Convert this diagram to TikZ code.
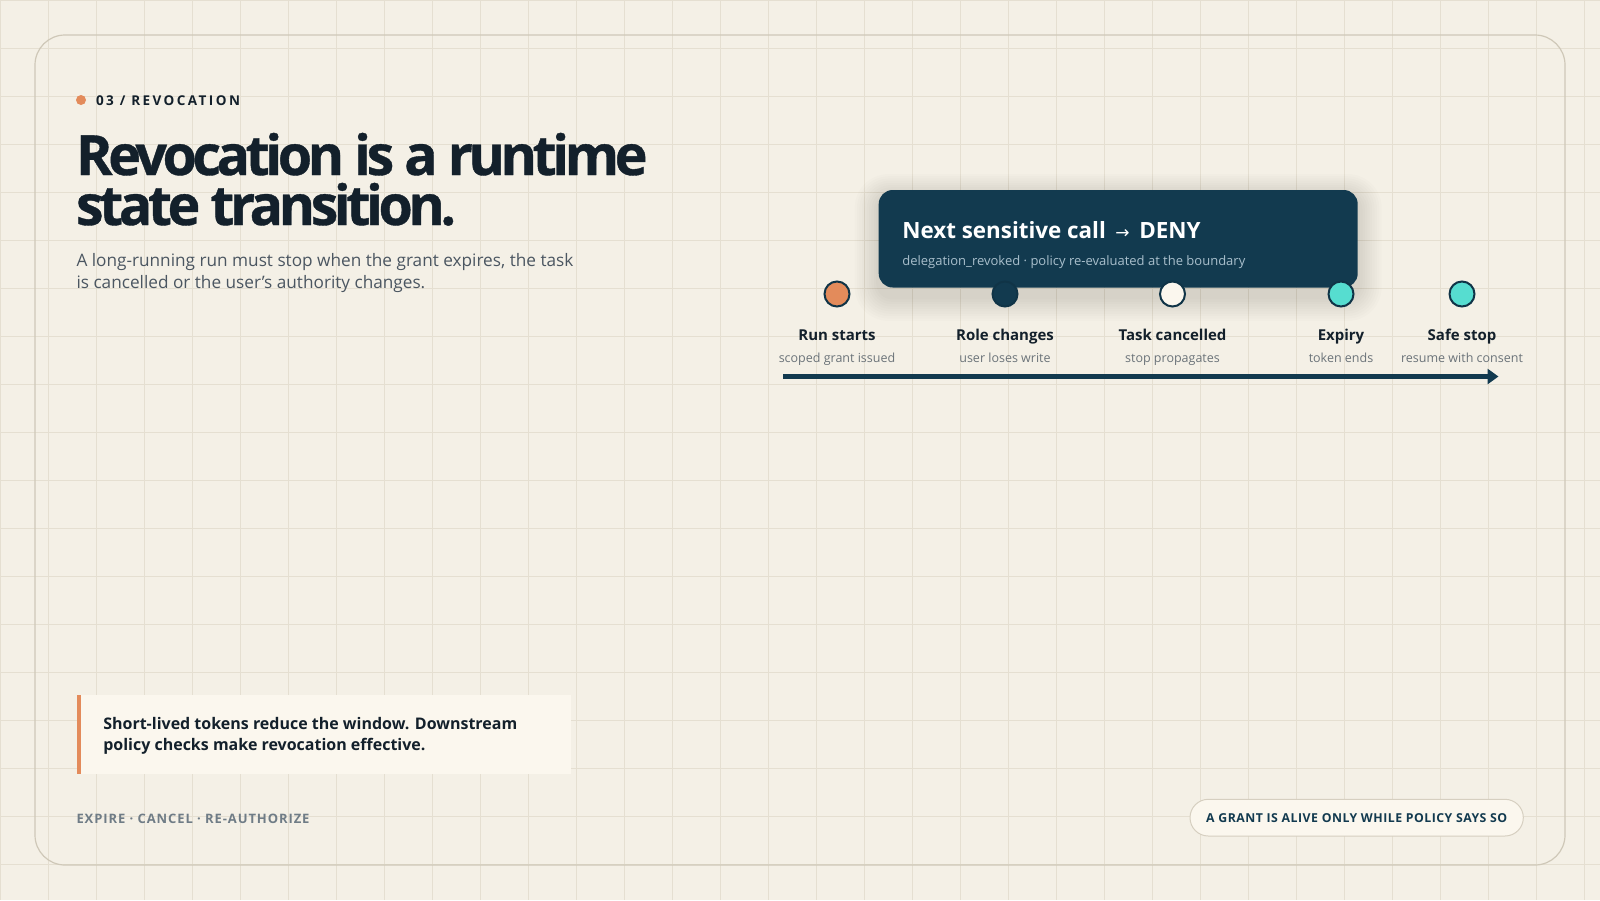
\documentclass[tikz,border=0pt]{standalone}
\usepackage{fontspec}
\setmainfont{Open Sans}
\newfontfamily\titlefont[LetterSpace=-8,FakeBold=0.7]{Open Sans}
\newfontfamily\kickerfont[LetterSpace=18]{Open Sans}
\newfontfamily\footfont[LetterSpace=7]{Open Sans}
\newfontfamily\pillfont[LetterSpace=4]{Open Sans}
\newfontfamily\symfont{DejaVu Sans}
\usetikzlibrary{arrows.meta}
\definecolor{bgc}{HTML}{F4F0E6}
\definecolor{gridc}{HTML}{E5DFD1}
\definecolor{cardline}{HTML}{CFC8B8}
\definecolor{darkc}{HTML}{123A4F}
\definecolor{orangec}{HTML}{E38B5B}
\definecolor{tealc}{HTML}{56DDD0}
\definecolor{creamc}{HTML}{FBF7EE}
\definecolor{inkc}{HTML}{13202B}
\definecolor{greyc}{HTML}{4B5661}
\definecolor{subc}{HTML}{6B7379}
\definecolor{footc}{HTML}{6F7C86}
\definecolor{paleblue}{HTML}{A9BFCC}
\definecolor{pillline}{HTML}{D6CFC0}
\tikzset{
  txt/.style={inner sep=0pt, outer sep=0pt, anchor=base west},
  dot/.style={circle, minimum size=25, inner sep=0pt, draw=darkc!90!black, line width=2},
  lbl/.style={inner sep=0pt, anchor=base, font=\bfseries\fontsize{15}{18}\selectfont, text=inkc},
  sublbl/.style={inner sep=0pt, anchor=base, font=\fontsize{12.5}{15}\selectfont, text=subc},
}
\begin{document}
\begin{tikzpicture}[x=1pt,y=-1pt]
\useasboundingbox (0,0) rectangle (1600,900);
\fill[bgc] (0,0) rectangle (1600,900);
\foreach \i in {0,48,...,1600} \draw[gridc, line width=1] (\i,0) -- (\i,900);
\foreach \j in {0,48,...,900} \draw[gridc, line width=1] (0,\j) -- (1600,\j);
% card
\draw[cardline, line width=1.2, rounded corners=30] (35,35) rectangle (1565,865);
% kicker
\fill[orangec] (81,100) circle (5);
\node[txt, text=inkc, font=\kickerfont\bfseries\fontsize{13.5}{16}\selectfont] (kick) at (96,105) {03 / REVOCATION};
% title
\node[txt, text=inkc, font=\titlefont\bfseries\fontsize{55.5}{56}\selectfont] (t1) at (76,175) {Revocation is a runtime};
\node[txt, text=inkc, font=\titlefont\bfseries\fontsize{55.5}{56}\selectfont] (t2) at (76,225) {state transition.};
% subtitle
\node[txt, text=greyc, font=\fontsize{17.2}{22}\selectfont] (s1) at (76.5,266) {A long-running run must stop when the grant expires, the task};
\node[txt, text=greyc, font=\fontsize{17.2}{22}\selectfont] (s2) at (76.5,288.7) {is cancelled or the user’s authority changes.};
% dark card shadow
\foreach \k in {1,...,10}
  \fill[black, opacity=0.012, rounded corners=14+\k*2] (878.6-\k*2.4,196-\k*2.2) rectangle (1357.7+\k*2.4,297+\k*2.4);
\node[rectangle, rounded corners=14, fill=darkc, minimum width=479, minimum height=97.5, inner sep=0pt] (deny) at (1118.2,238.75) {};
\node[txt, text=white, font=\bfseries\fontsize{22.4}{26}\selectfont] (denyt) at (902.3,238.3) {Next sensitive call\, {\normalfont\symfont\fontsize{17}{20}\selectfont →}\, DENY};
\node[txt, text=paleblue, font=\fontsize{13}{16}\selectfont] (denys) at (902.3,265.7) {delegation\_revoked · policy re-evaluated at the boundary};
% timeline dots
\node[dot, fill=orangec] (c1) at (837,294) {};
\node[dot, fill=darkc] (c2) at (1005,294) {};
\node[dot, fill=creamc] (c3) at (1172.5,294) {};
\node[dot, fill=tealc] (c4) at (1341,294) {};
\node[dot, fill=tealc] (c5) at (1462,294) {};
\node[lbl] (l1) at (837,340) {Run starts};
\node[lbl] (l2) at (1005,340) {Role changes};
\node[lbl] (l3) at (1172.5,340) {Task cancelled};
\node[lbl] (l4) at (1341,340) {Expiry};
\node[lbl] (l5) at (1462,340) {Safe stop};
\node[sublbl] (m1) at (837,362.3) {scoped grant issued};
\node[sublbl] (m2) at (1005,362.3) {user loses write};
\node[sublbl] (m3) at (1172.5,362.3) {stop propagates};
\node[sublbl] (m4) at (1341,362.3) {token ends};
\node[sublbl] (m5) at (1462,362.3) {resume with consent};
% axis
\coordinate (a0) at (783,376.5);
\coordinate (a1) at (1498.5,376.5);
\draw[darkc, line width=4.3, -{Triangle[length=11pt,width=15pt]}] (a0) -- (a1);
% callout
\fill[creamc] (76.5,695) rectangle (571,774);
\fill[orangec] (76.5,695) rectangle (81,774);
\node[txt, text=inkc, font=\bfseries\fontsize{16}{21}\selectfont] (q1) at (103.3,729) {Short-lived tokens reduce the window. Downstream};
\node[txt, text=inkc, font=\bfseries\fontsize{16}{21}\selectfont] (q2) at (103.3,750) {policy checks make revocation effective.};
% footer
\node[txt, text=footc, font=\footfont\bfseries\fontsize{13}{16}\selectfont] (foot) at (76.5,823.3) {EXPIRE · CANCEL · RE-AUTHORIZE};
\draw[pillline, fill=creamc, line width=1, rounded corners=18.3] (1190,799.3) rectangle (1523.3,836);
\node[inner sep=0pt, text=darkc, font=\pillfont\bfseries\fontsize{12.3}{15}\selectfont] (pill) at (1356.7,817.7) {A GRANT IS ALIVE ONLY WHILE POLICY SAYS SO};
\end{tikzpicture}
\end{document}
